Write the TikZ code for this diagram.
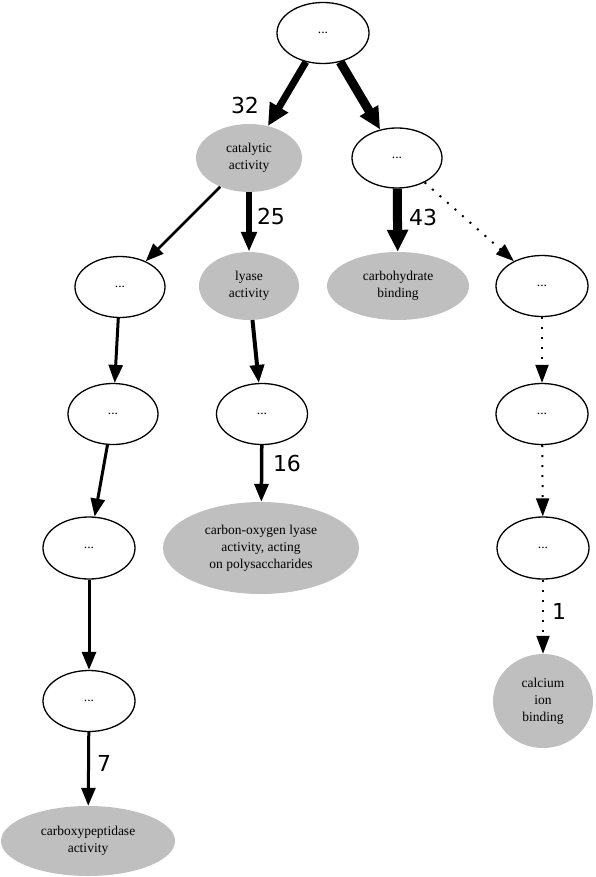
\documentclass[tikz,border=0pt]{standalone}
\usepackage{fontspec}
\setmainfont{Liberation Serif}
\newfontfamily\lblfont{DejaVu Sans}
\usetikzlibrary{shapes.geometric,arrows.meta}
\begin{document}
\begin{tikzpicture}[x=1pt,y=-1pt,
  base/.style={ellipse,inner sep=0pt,align=center,font=\fontsize{13.5}{17}\selectfont},
  plain/.style={base,draw,line width=1.3pt,fill=white},
  term/.style={base,fill=gray!50},
  lbl/.style={font=\lblfont\fontsize{22}{24}\selectfont,inner sep=0pt},
  edge/.style={line width=3pt,-{Triangle[length=18pt,width=14pt]}},
  bigedge/.style={-{Triangle[length=22pt,width=20pt]}},
  dotedge/.style={line width=2pt,dash pattern=on 2pt off 8pt,-{Triangle[length=18pt,width=13pt]}}
]
\useasboundingbox (0,0) rectangle (595,877);
% nodes
\node[plain,minimum width=92pt,minimum height=61pt] (root) at (323,33) {...};
\node[term,minimum width=106pt,minimum height=68pt] (cat) at (249,158) {catalytic\\activity};
\node[plain,minimum width=90pt,minimum height=60pt] (n2) at (397,158) {...};
\node[term,minimum width=100pt,minimum height=68pt] (lyase) at (249,286) {lyase\\activity};
\node[term,minimum width=142pt,minimum height=68pt] (carb) at (398,286) {carbohydrate\\binding};
\node[plain,minimum width=92pt,minimum height=61pt] (n3) at (542,286) {...};
\node[plain,minimum width=90pt,minimum height=61pt] (n4) at (120,287) {...};
\node[plain,minimum width=90pt,minimum height=61pt] (n5) at (113,414) {...};
\node[plain,minimum width=91pt,minimum height=61pt] (ly2) at (262,414) {...};
\node[plain,minimum width=92pt,minimum height=61pt] (n8) at (542,414) {...};
\node[plain,minimum width=92pt,minimum height=62pt] (n6) at (89,548) {...};
\node[term,minimum width=196pt,minimum height=92pt] (co) at (261,548) {carbon-oxygen lyase\\activity, acting\\on polysaccharides};
\node[plain,minimum width=92pt,minimum height=62pt] (n9) at (543,548) {...};
\node[plain,minimum width=92pt,minimum height=61pt] (n7) at (89,701) {...};
\node[term,minimum width=100pt,minimum height=94pt] (cal) at (543,701) {calcium\\ion\\binding};
\node[term,minimum width=174pt,minimum height=70pt] (cpep) at (88,841) {carboxypeptidase\\activity};
% edges
\draw[bigedge,line width=7pt] (root) -- (cat);
\draw[bigedge,line width=9pt] (root) -- (n2);
\draw[edge,line width=6pt,-{Triangle[length=20pt,width=15pt]}] (cat) -- (lyase);
\draw[edge,line width=2.8pt] (cat) -- (n4);
\draw[bigedge,line width=9pt] (n2) -- (carb);
\draw[dotedge] (n2) -- (n3);
\draw[edge,line width=4pt] (lyase) -- (ly2);
\draw[edge,line width=3.5pt] (ly2) -- (co);
\draw[edge] (n4) -- (n5);
\draw[edge] (n5) -- (n6);
\draw[edge] (n6) -- (n7);
\draw[edge] (n7) -- (cpep);
\draw[dotedge] (n3) -- (n8);
\draw[dotedge] (n8) -- (n9);
\draw[dotedge] (n9) -- (cal);
% labels
\node[lbl] (l32) at (245,105) {32};
\node[lbl] (l25) at (271,216) {25};
\node[lbl] (l43) at (423,217) {43};
\node[lbl] (l16) at (287,463) {16};
\node[lbl] (l7) at (104,763) {7};
\node[lbl] (l1) at (559,611) {1};
\end{tikzpicture}
\end{document}
